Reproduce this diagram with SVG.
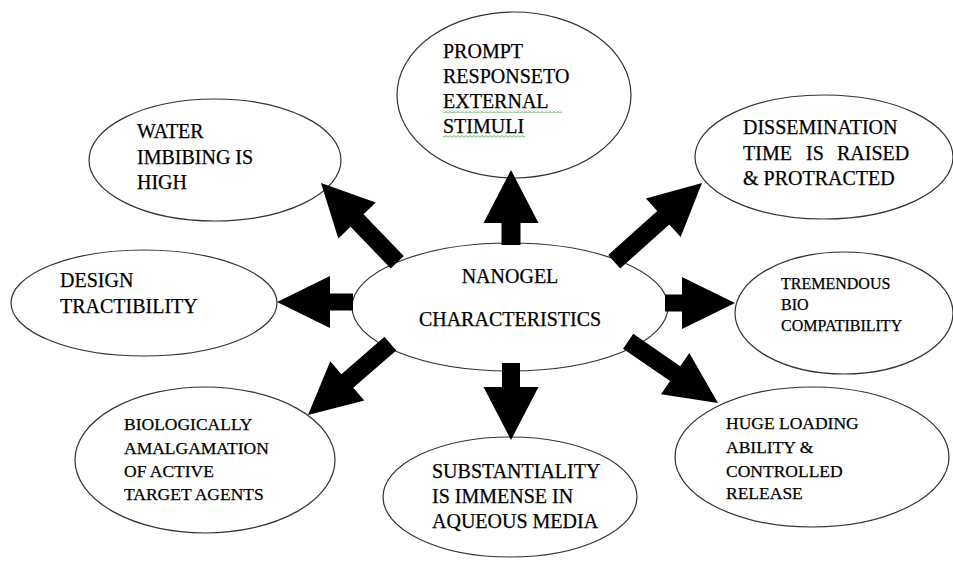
<svg xmlns="http://www.w3.org/2000/svg" width="953" height="562" viewBox="0 0 953 562">
<defs>
<style>
.node ellipse{fill:#fff;stroke:#333;stroke-width:1.2}
text{font-family:'Liberation Serif','Times New Roman',serif;fill:#000;stroke:#000;stroke-width:0.25}
.t20{font-size:20px}
.t17{font-size:17.5px}
.t16{font-size:16px}
.arrow{fill:#000}
</style>
<pattern id="squiggle" x="0" y="0" width="4" height="3" patternUnits="userSpaceOnUse">
<path d="M0,2.5 L2,0.5 L4,2.5" fill="none" stroke="#3c9c3c" stroke-width="0.9"/>
</pattern>
</defs>
<rect width="953" height="562" fill="#fff"/>

<g id="prompt" class="node">
<ellipse cx="514" cy="95" rx="117" ry="83"/>
<text class="t20" x="443" y="58">PROMPT</text>
<text class="t20" x="443" y="83">RESPONSETO</text>
<text class="t20" x="443" y="108">EXTERNAL</text>
<text class="t20" x="443" y="133">STIMULI</text>
<rect x="443" y="110" width="119" height="3" fill="url(#squiggle)"/>
<rect x="443" y="135" width="82" height="3" fill="url(#squiggle)"/>
</g>

<g id="water" class="node">
<ellipse cx="215" cy="160" rx="126" ry="61"/>
<text class="t20" x="137" y="138">WATER</text>
<text class="t20" x="137" y="164">IMBIBING IS</text>
<text class="t20" x="137" y="189">HIGH</text>
</g>

<g id="dissemination" class="node">
<ellipse cx="824" cy="157" rx="129" ry="62"/>
<text class="t20" x="743" y="134">DISSEMINATION</text>
<text class="t20" y="160"><tspan x="743">TIME</tspan><tspan x="806">IS</tspan><tspan x="837">RAISED</tspan></text>
<text class="t20" x="743" y="185">&amp; PROTRACTED</text>
</g>

<g id="design" class="node">
<ellipse cx="144" cy="303" rx="133" ry="53"/>
<text class="t20" x="60" y="287">DESIGN</text>
<text class="t20" x="60" y="313">TRACTIBILITY</text>
</g>

<g id="tremendous" class="node">
<ellipse cx="844" cy="313" rx="109" ry="61"/>
<text class="t16" x="781" y="289">TREMENDOUS</text>
<text class="t16" x="781" y="310">BIO</text>
<text class="t16" x="781" y="331">COMPATIBILITY</text>
</g>

<g id="biologically" class="node">
<ellipse cx="205" cy="460" rx="130" ry="73"/>
<text class="t17" x="124" y="430">BIOLOGICALLY</text>
<text class="t17" x="124" y="454">AMALGAMATION</text>
<text class="t17" x="124" y="477">OF ACTIVE</text>
<text class="t17" x="124" y="500">TARGET AGENTS</text>
</g>

<g id="substantiality" class="node">
<ellipse cx="510" cy="497" rx="127" ry="60"/>
<text class="t20" x="432" y="478">SUBSTANTIALITY</text>
<text class="t20" x="432" y="503">IS IMMENSE IN</text>
<text class="t20" x="432" y="528">AQUEOUS MEDIA</text>
</g>

<g id="huge" class="node">
<ellipse cx="812" cy="457" rx="137" ry="70"/>
<text class="t17" x="726" y="429">HUGE LOADING</text>
<text class="t17" x="726" y="453">ABILITY &amp;</text>
<text class="t17" x="726" y="477">CONTROLLED</text>
<text class="t17" x="726" y="499">RELEASE</text>
</g>

<g id="center" class="node">
<ellipse cx="510" cy="307" rx="158" ry="64"/>
<text class="t20" x="510" y="283" text-anchor="middle">NANOGEL</text>
<text class="t20" x="510" y="326" text-anchor="middle">CHARACTERISTICS</text>
</g>

<g id="connectors" class="arrow">
<polygon transform="translate(511,170) rotate(-90)" points="0,0 -53,-27.5 -53,-9.5 -75,-9.5 -75,9.5 -53,9.5 -53,27.5"/>
<polygon transform="translate(511,440) rotate(90)" points="0,0 -53,-27.5 -53,-9 -77,-9 -77,9 -53,9 -53,27.5"/>
<polygon transform="translate(277,302) rotate(180)" points="0,0 -53,-26 -53,-8.5 -76,-8.5 -76,8.5 -53,8.5 -53,26"/>
<polygon transform="translate(735,303)" points="0,0 -53,-26 -53,-8.5 -70,-8.5 -70,8.5 -53,8.5 -53,26"/>
<polygon transform="translate(321,183) rotate(-133.9)" points="0,0 -52,-26 -52,-9 -110,-9 -110,9 -52,9 -52,26"/>
<polygon transform="translate(702,183) rotate(-41.9)" points="0,0 -52,-26 -52,-9 -118,-9 -118,9 -52,9 -52,26"/>
<polygon transform="translate(308,415) rotate(139.1)" points="0,0 -52,-26 -52,-9 -109,-9 -109,9 -52,9 -52,26"/>
<polygon transform="translate(718,403) rotate(34.5)" points="0,0 -52,-25 -52,-9 -109,-9 -109,9 -52,9 -52,25"/>
</g>
</svg>
